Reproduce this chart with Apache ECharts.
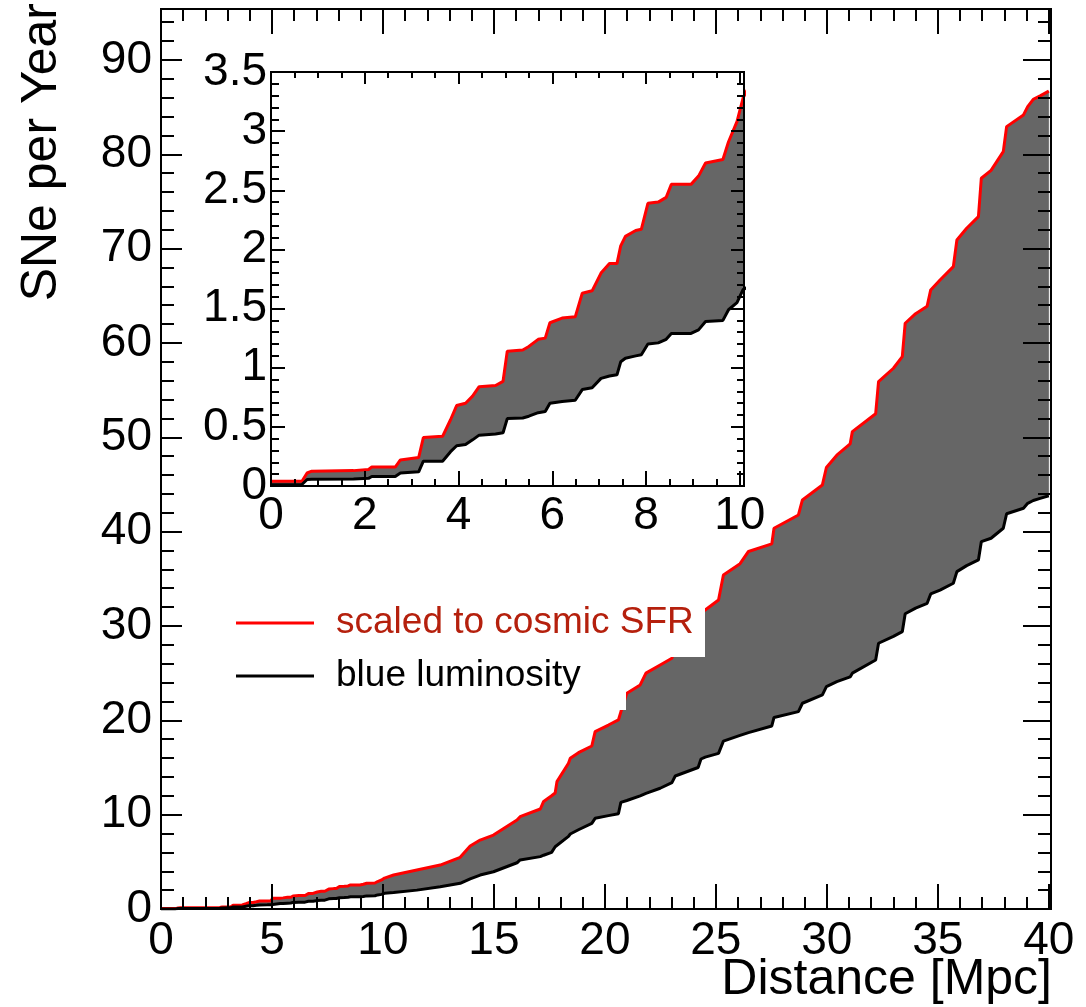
<!DOCTYPE html>
<html>
<head>
<meta charset="utf-8">
<script src="https://cdn.jsdelivr.net/npm/echarts@6/dist/echarts.min.js"></script>
<style>html,body{margin:0;padding:0;background:#fff}#c{width:1086px;height:1007px}</style>
</head>
<body>
<div id="c"></div>
<script>
// Distance [Mpc]
const dist = [0.00,0.66,0.77,0.87,1.76,2.08,2.15,2.65,2.76,3.15,3.25,3.66,3.83,3.96,4.15,4.30,4.44,4.79,4.95,5.04,5.37,5.50,5.70,5.85,5.95,6.21,6.49,6.64,6.85,7.04,7.22,7.38,7.46,7.56,7.78,7.90,8.04,8.26,8.43,8.54,8.96,9.12,9.27,9.64,9.76,9.94,10.07,10.48,11.53,12.58,13.48,13.93,14.38,14.98,16.04,16.18,17.09,17.24,17.60,17.76,17.84,18.36,18.44,18.81,19.41,19.56,20.16,20.61,20.72,20.99,21.59,21.85,22.49,23.02,23.17,24.20,24.33,24.52,25.12,25.34,26.09,26.47,27.52,27.62,28.72,28.90,29.80,29.98,30.45,31.05,31.15,32.20,32.33,33.00,33.40,33.53,34.00,34.52,34.68,35.10,35.70,35.86,36.30,36.83,36.96,37.40,37.95,38.10,38.86,39.05,39.30,39.61,40.00];
// SNe per year, scaled to cosmic SFR (red)
const sfrScaled = [0.04,0.04,0.11,0.125,0.13,0.14,0.16,0.16,0.22,0.24,0.41,0.42,0.56,0.68,0.70,0.76,0.84,0.85,0.885,1.14,1.15,1.18,1.24,1.25,1.38,1.42,1.43,1.63,1.65,1.80,1.88,1.88,2.03,2.11,2.16,2.17,2.39,2.40,2.44,2.55,2.55,2.62,2.73,2.76,2.91,3.08,3.28,3.60,4.13,4.66,5.48,6.68,7.31,7.84,9.43,9.79,10.60,11.40,12.00,12.30,13.50,15.45,15.97,16.57,17.28,18.80,19.50,20.04,20.90,22.87,23.75,25.00,25.87,26.58,28.00,29.60,31.30,31.70,32.76,35.41,36.60,37.90,38.70,40.36,41.77,43.36,44.95,46.80,48.10,49.30,50.60,52.50,55.90,57.32,58.55,62.09,63.10,63.90,65.62,66.68,68.09,70.92,72.16,73.39,77.46,78.30,80.28,82.93,84.17,85.05,85.83,86.19,86.70];
// SNe per year, blue luminosity (black)
const blueLum = [0.01,0.013,0.055,0.058,0.06,0.065,0.08,0.08,0.11,0.12,0.21,0.21,0.29,0.34,0.35,0.39,0.43,0.44,0.45,0.57,0.575,0.59,0.62,0.63,0.70,0.715,0.725,0.815,0.83,0.91,0.93,0.94,1.05,1.08,1.10,1.11,1.20,1.21,1.24,1.29,1.29,1.32,1.39,1.40,1.49,1.55,1.66,1.75,2.00,2.35,2.72,3.20,3.60,3.95,4.90,5.20,5.55,5.70,6.00,6.60,6.75,7.70,7.95,8.40,9.08,9.61,9.90,10.10,11.30,11.50,12.00,12.26,12.80,13.40,14.10,15.00,15.90,16.10,16.50,17.80,18.40,18.70,19.40,20.30,20.92,21.81,22.69,23.57,24.10,24.60,25.00,26.40,28.17,28.90,29.40,31.30,31.90,32.40,33.40,33.80,34.53,35.76,36.40,37.00,38.94,39.30,40.36,41.90,42.48,43.00,43.30,43.53,43.80];

const legendNames = ['scaled to cosmic SFR', 'blue luminosity'];
const xTitle = 'Distance [Mpc]';
const yTitle = 'SNe per Year';

const FONT = "'Liberation Sans', Arial, Helvetica, sans-serif";
const chart = echarts.init(document.getElementById('c'), null, {renderer: 'canvas'});

function axis(o) {
  return {
    type: 'value', gridIndex: o.grid, position: o.pos, min: o.min, max: o.max, interval: o.interval, z: 10,
    axisLine: {show: !!o.line, onZero: false, lineStyle: {color: '#000', width: 2}},
    axisTick: {show: true, inside: true, length: o.len, lineStyle: {color: '#000', width: 2}},
    axisLabel: {show: !!o.label, color: '#000', fontSize: 46, fontFamily: FONT, margin: o.margin || 8,
      showMinLabel: true, showMaxLabel: !!o.showMax},
    splitLine: {show: false}, minorTick: {show: false}
  };
}

const xAxes = [
  axis({grid:0,pos:'bottom',min:0,max:40.1,interval:5,len:25,line:true,label:true,margin:9}),
  axis({grid:0,pos:'bottom',min:0,max:40.1,interval:1,len:12}),
  axis({grid:0,pos:'top',min:0,max:40.1,interval:5,len:25,line:true}),
  axis({grid:0,pos:'top',min:0,max:40.1,interval:1,len:12}),
  axis({grid:1,pos:'bottom',min:0,max:10.09,interval:2,len:15,line:true,label:true,margin:7}),
  axis({grid:1,pos:'bottom',min:0,max:10.09,interval:0.5,len:7}),
  axis({grid:1,pos:'top',min:0,max:10.09,interval:2,len:12,line:true}),
  axis({grid:1,pos:'top',min:0,max:10.09,interval:0.5,len:6})
];
const yAxes = [
  axis({grid:0,pos:'left',min:0,max:95.4,interval:10,len:21,line:true,label:true,margin:9}),
  axis({grid:0,pos:'left',min:0,max:95.4,interval:2,len:13}),
  axis({grid:0,pos:'right',min:0,max:95.4,interval:10,len:28,line:true}),
  axis({grid:0,pos:'right',min:0,max:95.4,interval:2,len:13}),
  axis({grid:1,pos:'left',min:0,max:3.5,interval:0.5,len:14,line:true,label:true,margin:4,showMax:true}),
  axis({grid:1,pos:'left',min:0,max:3.5,interval:0.1,len:8}),
  axis({grid:1,pos:'right',min:0,max:3.5,interval:0.5,len:13,line:true}),
  axis({grid:1,pos:'right',min:0,max:3.5,interval:0.1,len:7})
];

function seriesFor(ax) {
  const bandData = dist.map((d, i) => [d, blueLum[i], sfrScaled[i]]);
  return [
    {type:'custom', name:'_band'+ax, xAxisIndex:ax, yAxisIndex:ax, data:bandData, silent:true, z:2, clip:true,
     animation:false,
     renderItem: function (params, api) {
       if (params.dataIndex !== 0) return null;
       const upper = dist.map((d, i) => api.coord([d, sfrScaled[i]]));
       const lower = dist.map((d, i) => api.coord([d, blueLum[i]])).reverse();
       const cs = params.coordSys;
       return {
         type:'polygon', shape:{points: upper.concat(lower)},
         style:{fill:'#666666', stroke:'#666666', lineWidth:0.5},
         clipPath:{type:'rect', shape:{x:cs.x, y:cs.y, width:cs.width, height:cs.height}}
       };
     }},
    {type:'line', name:legendNames[0], xAxisIndex:ax, yAxisIndex:ax, data:dist.map((d, i) => [d, sfrScaled[i]]),
     symbol:'none', color:'#ff0000', lineStyle:{color:'#ff0000', width:3}, z:3, animation:false},
    {type:'line', name:legendNames[1], xAxisIndex:ax, yAxisIndex:ax, data:dist.map((d, i) => [d, blueLum[i]]),
     symbol:'none', color:'#000000', lineStyle:{color:'#000000', width:3}, z:3, animation:false}
  ];
}

const legendCommon = {
  orient:'vertical', left:231, icon:'rect', itemWidth:78, itemHeight:3, selectedMode:false, z:60,
  textStyle:{fontSize:37, fontFamily:FONT, lineHeight:40, padding:[0,0,0,17]}
};

const option = {
  backgroundColor:'#fff',
  animation:false,
  grid:[
    {left:161, top:9, width:890, height:900, show:true, borderColor:'#000', borderWidth:2, backgroundColor:'transparent', containLabel:false},
    {left:271, top:72, width:473, height:414, show:true, borderColor:'#000', borderWidth:2, backgroundColor:'#fff', containLabel:false, z:1}
  ],
  xAxis: xAxes,
  yAxis: yAxes,
  legend:[
    Object.assign({}, legendCommon, {top:598, data:[{name:legendNames[0], textStyle:{color:'#b5200d'}}]}),
    Object.assign({}, legendCommon, {top:651, data:[{name:legendNames[1], textStyle:{color:'#000'}}]})
  ],
  graphic:[
    {type:'rect', z:50, shape:{x:200, y:600, width:505, height:57}, style:{fill:'#fff'}, silent:true},
    {type:'rect', z:50, shape:{x:200, y:657, width:426, height:53}, style:{fill:'#fff'}, silent:true},
    {type:'text', z:50, x:1052, y:980, style:{text:xTitle, font:'50px ' + FONT, fill:'#000', align:'right', textAlign:'right', verticalAlign:'middle', textVerticalAlign:'middle'}},
    {type:'text', z:50, x:42, y:3, rotation:Math.PI/2, style:{text:yTitle, font:'50px ' + FONT, fill:'#000', align:'right', textAlign:'right', verticalAlign:'middle', textVerticalAlign:'middle'}}
  ],
  series: seriesFor(0).concat(seriesFor(4))
};
chart.setOption(option);
</script>
</body>
</html>
